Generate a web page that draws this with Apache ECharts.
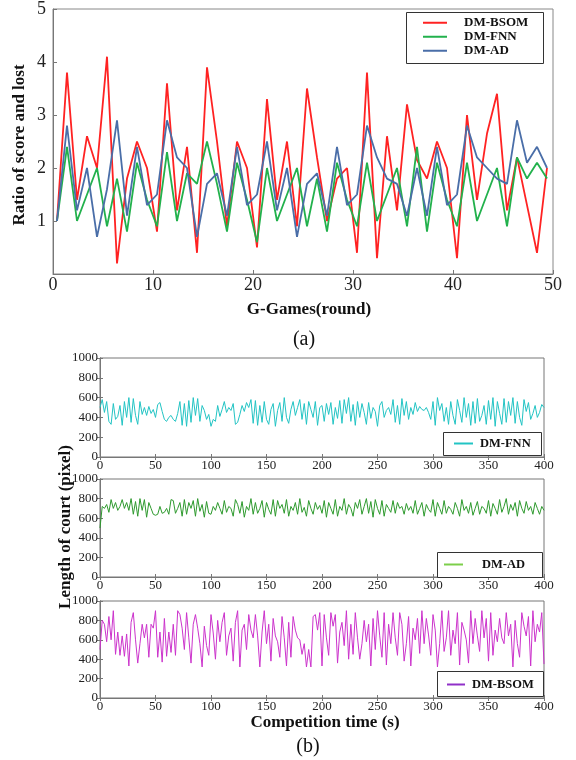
<!DOCTYPE html>
<html><head><meta charset="utf-8">
<script src="https://cdn.jsdelivr.net/npm/echarts@6/dist/echarts.min.js"></script>
<style>html,body{margin:0;padding:0;background:#fff}#c{width:576px;height:760px}</style>
</head><body><div id="c"></div>
<script>
// ---------- (a) ratio of score and lost ----------
const rounds = [0,1,2,3,4,5,6,7,8,9,10,11,12,13,14,15,16,17,18,19,20,21,22,23,24,25,26,27,28,29,30,31,32,33,34,35,36,37,38,39,40,41,42,43,44,45,46,47,48,49];
const ratioBSOM = [1.0,3.8,1.4,2.6,2.0,4.1,0.2,1.8,2.5,2.0, 0.8,3.6,1.2,2.4,0.4,3.9,2.5,0.9,2.5,2.0, 0.5,3.3,1.4,2.5,0.9,3.5,2.2,1.0,1.8,2.0, 0.4,3.8,0.3,2.6,1.2,3.2,2.15,1.8,2.5,2.0, 0.3,3.0,1.4,2.65,3.4,1.2,2.2,1.3,0.4,2.0];
const ratioFNN  = [1.0,2.4,1.0,1.5,2.0,0.9,1.8,0.8,2.1,1.4, 0.9,2.3,1.0,1.9,1.7,2.5,1.7,0.8,2.1,1.4, 0.6,2.0,1.0,1.5,2.0,0.9,1.8,0.8,2.1,1.4, 0.9,2.1,1.0,1.5,2.0,0.9,2.4,0.8,2.1,1.4, 0.9,2.1,1.0,1.5,2.0,0.9,2.2,1.8,2.1,1.8];
const ratioAD   = [1.0,2.8,1.2,2.0,0.7,1.6,2.9,1.1,2.4,1.3, 1.5,2.9,2.2,2.0,0.7,1.7,1.9,1.1,2.4,1.3, 1.5,2.5,1.2,2.0,0.7,1.7,1.9,1.1,2.4,1.3, 1.5,2.8,2.2,1.8,1.7,1.1,2.0,1.1,2.4,1.3, 1.5,2.8,2.2,2.0,1.8,1.7,2.9,2.1,2.4,2.0];
const ratioTicks = [0,10,20,30,40,50];

// ---------- (b) length of court, sampled every 2 s ----------
const courtFNN = [500,580,450,560,360,330,540,380,410,520, 320,560,400,600,350,590,420,330,560,430, 500,420,510,440,480,400,530,550,460,380,
 360,400,420,380,360,440,560,320,540,310, 570,350,600,420,590,360,520,470,380,430, 310,380,360,520,410,480,560,450,500,470,
 540,330,350,430,520,460,550,500,580,340, 570,320,520,350,560,380,330,480,540,310, 470,550,360,600,400,340,480,560,420,500,
 580,380,540,330,560,480,400,560,320,500, 520,360,540,430,550,330,500,390,570,340, 580,440,600,360,530,320,560,400,540,450,
 330,550,390,500,460,310,520,560,400,470, 500,430,580,350,520,330,590,420,560,380, 500,430,550,460,510,480,470,500,450,380,
 560,320,600,470,540,360,500,330,560,420, 330,580,470,350,600,400,540,320,560,340, 590,360,420,520,330,570,380,600,310,560,
 440,330,590,350,560,420,600,340,560,400, 320,580,460,550,380,440,520,400,450,530, 500];
const courtAD = [500,720,700,740,660,790,700,760,680,720, 790,700,760,680,800,640,770,620,800,680, 790,610,760,700,640,630,640,720,650,660,
 700,640,790,780,650,700,760,620,790,640, 760,700,780,620,800,670,740,610,770,650, 640,720,680,760,700,640,780,660,720,700,
 620,790,740,650,770,610,720,680,800,640, 760,650,700,780,610,760,690,640,790,620, 780,700,740,650,790,620,720,680,760,640,
 800,660,710,620,780,700,640,760,690,730, 650,780,610,760,700,640,790,620,720,680, 800,640,740,700,620,760,700,790,640,720,
 800,650,770,610,790,700,640,780,620,740, 700,660,780,650,760,700,720,640,750,680, 720,650,780,640,700,760,620,740,690,660,
 790,620,760,700,640,780,650,720,690,640, 760,700,620,790,680,720,650,760,630,700, 770,640,720,700,650,780,620,750,700,640,
 790,660,720,800,640,740,680,760,620,780, 700,650,770,680,720,640,760,700,640,720, 680];
const courtBSOM = [500,800,760,580,840,600,900,450,680,440, 640,430,660,330,780,880,600,360,560,760, 620,760,420,760,720,900,420,680,370,820,
 430,680,470,760,440,900,860,720,500,880, 620,360,760,860,720,560,320,740,540,440, 860,670,400,800,580,780,880,440,640,720,
 380,780,900,320,700,760,500,860,700,620, 860,640,320,680,900,560,760,380,820,640, 580,420,840,620,330,780,420,840,700,620,
 600,450,560,320,500,320,840,860,700,880, 330,860,620,440,880,740,860,360,680,780, 540,900,400,760,450,880,620,400,560,800,
 580,760,330,820,500,900,640,420,880,340, 760,560,880,620,440,880,760,380,560,840, 330,720,600,820,460,900,560,820,650,440,
 860,700,320,560,900,480,620,900,440,700, 560,880,340,780,700,600,360,900,560,820, 640,480,900,620,820,380,880,440,700,580,
 820,620,560,880,640,760,320,800,560,420, 880,740,640,840,330,900,580,760,680,880, 350];
const timeStep = 2;
const timeTicks = [0,50,100,150,200,250,300,350,400];
const courtTicks = [0,200,400,600,800,1000];

const serif = '"Liberation Serif","Times New Roman",serif';
const pairs = (xs, ys) => ys.map((v, i) => [xs[i], v]);
const tpairs = ys => ys.map((v, i) => [i * timeStep, v]);

const chart = echarts.init(document.getElementById('c'), null, {renderer: 'canvas', width: 576, height: 760});

const bottomTops = [358, 479, 601];
const bottomHeights = [99, 98, 97];
const grids = [{left: 53, top: 9, width: 500, height: 265, show: true, borderColor: '#888', borderWidth: 1}];
bottomTops.forEach((t, k) => grids.push({left: 100, top: t, width: 444, height: bottomHeights[k], show: true, borderColor: '#777', borderWidth: 1}));

const axisLine = {show: true, lineStyle: {color: '#777', width: 1}};
const plain = v => String(v);
const xAxes = [
  {type: 'value', gridIndex: 0, min: ratioTicks[0], max: ratioTicks[ratioTicks.length-1], interval: 10,
   axisLine: axisLine, axisTick: {show: true, inside: true, length: 4, lineStyle: {color: '#777'}},
   axisLabel: {fontFamily: serif, fontSize: 18, color: '#222', margin: 2, formatter: plain}, splitLine: {show: false}},
  {type: 'value', gridIndex: 0, min: -0.4, max: 49.6, show: false, splitLine: {show: false}}
];
const yAxes = [
  {type: 'value', gridIndex: 0, min: 0, max: 5, interval: 1,
   axisLine: axisLine, axisTick: {show: true, inside: true, length: 4, lineStyle: {color: '#777'}},
   axisLabel: {fontFamily: serif, fontSize: 18, color: '#222', margin: 7, formatter: v => v === 0 ? '' : String(v)},
   splitLine: {show: false}}
];
for (let k = 0; k < 3; k++) {
  xAxes.push({type: 'value', gridIndex: k + 1, min: timeTicks[0], max: timeTicks[timeTicks.length-1], interval: 50,
    axisLine: axisLine, axisTick: {show: true, inside: true, length: 3, lineStyle: {color: '#777'}},
    axisLabel: {fontFamily: serif, fontSize: 13, color: '#222', margin: 2, formatter: plain}, splitLine: {show: false}});
  xAxes.push({type: 'value', gridIndex: k + 1, position: 'top', min: 0, max: 400, interval: 50,
    axisLine: axisLine, axisTick: {show: true, inside: true, length: 3, lineStyle: {color: '#777'}},
    axisLabel: {show: false}, splitLine: {show: false}});
  yAxes.push({type: 'value', gridIndex: k + 1, min: courtTicks[0], max: courtTicks[courtTicks.length-1], interval: 200,
    axisLine: axisLine, axisTick: {show: true, inside: true, length: 3, lineStyle: {color: '#777'}},
    axisLabel: {fontFamily: serif, fontSize: 13, color: '#222', margin: 2, formatter: plain}, splitLine: {show: false}});
  yAxes.push({type: 'value', gridIndex: k + 1, position: 'right', min: 0, max: 1000, interval: 200,
    axisLine: axisLine, axisTick: {show: true, inside: true, length: 3, lineStyle: {color: '#777'}},
    axisLabel: {show: false}, splitLine: {show: false}});
}

const lineS = (name, data, color, xi, yi, w) => ({
  name, type: 'line', data, xAxisIndex: xi, yAxisIndex: yi, symbol: 'none', animation: false,
  lineStyle: {color, width: w}, itemStyle: {color}
});

const series = [
  lineS('DM-BSOM', pairs(rounds, ratioBSOM), '#ff2222', 1, 0, 1.8),
  lineS('DM-FNN', pairs(rounds, ratioFNN), '#22b14c', 1, 0, 1.8),
  lineS('DM-AD', pairs(rounds, ratioAD), '#4a6ea8', 1, 0, 1.8),
  lineS('DM-FNN ', tpairs(courtFNN), '#22c4c4', 2, 1, 1),
  lineS('DM-AD ', tpairs(courtAD), '#2e9a2e', 4, 3, 1),
  lineS('DM-BSOM ', tpairs(courtBSOM), '#cc33cc', 6, 5, 1)
];

const legBase = {orient: 'vertical', icon: 'rect', itemHeight: 2, padding: 0, selectedMode: false};
const legends = [
  Object.assign({}, legBase, {left: 423, top: 16, itemWidth: 24, itemGap: 0.5,
    textStyle: {fontFamily: serif, fontWeight: 'bold', fontSize: 13, color: '#111', lineHeight: 13.5, padding: [0,0,0,12]},
    data: [{name: 'DM-BSOM'}, {name: 'DM-FNN'}, {name: 'DM-AD'}]}),
  Object.assign({}, legBase, {left: 454, top: 437, itemWidth: 19,
    textStyle: {fontFamily: serif, fontWeight: 'bold', fontSize: 12.5, color: '#111', padding: [0,0,0,2]},
    data: [{name: 'DM-FNN ', itemStyle: {color: '#22c4c4'}}],
    formatter: n => n.trim()}),
  Object.assign({}, legBase, {left: 444, top: 558, itemWidth: 19,
    textStyle: {fontFamily: serif, fontWeight: 'bold', fontSize: 12.5, color: '#111', padding: [0,0,0,14]},
    data: [{name: 'DM-AD ', itemStyle: {color: '#7ccf4a'}}],
    formatter: n => n.trim()}),
  Object.assign({}, legBase, {left: 447, top: 678, itemWidth: 18,
    textStyle: {fontFamily: serif, fontWeight: 'bold', fontSize: 12.5, color: '#111', padding: [0,0,0,2]},
    data: [{name: 'DM-BSOM ', itemStyle: {color: '#9030c8'}}],
    formatter: n => n.trim()})
];

const txt = (text, x, y, size, bold, rot) => ({
  type: 'text', x, y, rotation: rot || 0, silent: true,
  style: {text, fontFamily: serif, fontSize: size, fontWeight: bold ? 'bold' : 'normal', fill: '#111', align: 'center', verticalAlign: 'middle'}
});
const box = (x, y, w, h) => ({type: 'rect', shape: {x, y, width: w, height: h}, style: {fill: '#fff', stroke: '#333', lineWidth: 1}, z: 3});

chart.setOption({
  animation: false,
  backgroundColor: '#fff',
  grid: grids, xAxis: xAxes, yAxis: yAxes, series, legend: legends,
  graphic: [
    box(406.5, 12.5, 137, 51), box(443.5, 432.5, 98, 23), box(437.5, 552.5, 105, 25), box(437.5, 671.5, 106, 25),
    txt('Ratio of score and lost', 20, 145, 17, true, Math.PI / 2),
    txt('G-Games(round)', 309, 310, 17, true),
    txt('(a)', 304, 340, 20, false),
    txt('Length of court (pixel)', 66, 527, 17, true, Math.PI / 2),
    txt('Competition time (s)', 325, 723, 17, true),
    txt('(b)', 308, 747, 20, false)
  ]
});
</script></body></html>
